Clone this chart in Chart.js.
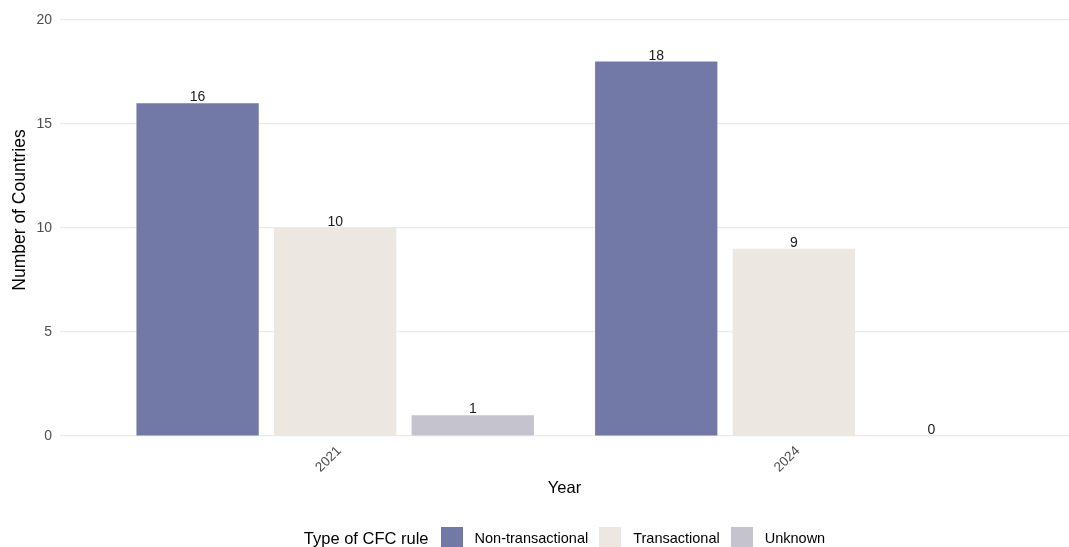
<!DOCTYPE html>
<html>
<head>
<meta charset="utf-8">
<title>CFC rules by year</title>
<script src="https://cdn.jsdelivr.net/npm/chart.js@4"></script>
<style>
  html, body { margin: 0; padding: 0; background: #ffffff; }
  #wrap { position: relative; width: 1069px; height: 547px; }
  #chart { display: block; }
  #legend {
    position: absolute; left: 71px; right: 0; top: 527px; height: 22px;
    display: flex; align-items: center; justify-content: center;
    font-family: "Liberation Sans", Arial, sans-serif; color: #000;
  }
  #legend .title { font-size: 16.5px; margin-right: 12px; }
  #legend .sw { width: 22px; height: 22px; margin-right: 12px; }
  #legend .txt { font-size: 14.5px; margin-right: 11px; }
</style>
</head>
<body>
<div id="wrap">
  <canvas id="chart" width="1069" height="547"></canvas>
  <div id="legend"></div>
</div>
<script>
// Number of countries per type of CFC rule, by year
const years = ['2021', '2024'];
const ruleTypes = ['Non-transactional', 'Transactional', 'Unknown'];
const nonTransactional = [16, 18];
const transactional = [10, 9];
const unknown = [1, 0];
const yTickValues = [0, 5, 10, 15, 20];

const palette = ['#7379A6', '#ECE7E1', '#C4C3CE'];
const FONT = '"Liberation Sans", Arial, sans-serif';
const Y_TITLE = 'Number of Countries';

const seriesValues = [nonTransactional, transactional, unknown];

// Years sit at positions 1..n on a numeric axis so the panel can extend past them
const toPoints = vals => vals.map((v, i) => ({ x: i + 1, y: v }));

const datasets = ruleTypes.map((name, k) => ({
  label: name,
  data: toPoints(seriesValues[k]),
  backgroundColor: palette[k],
  borderWidth: 0,
  categoryPercentage: 0.9,
  barPercentage: 0.8 / 0.9
}));

// Value labels above each bar
const valueLabels = {
  id: 'valueLabels',
  afterDatasetsDraw(chart) {
    const ctx = chart.ctx;
    ctx.save();
    ctx.font = '14px ' + FONT;
    ctx.fillStyle = '#1a1a1a';
    ctx.textAlign = 'center';
    ctx.textBaseline = 'alphabetic';
    chart.data.datasets.forEach((ds, di) => {
      chart.getDatasetMeta(di).data.forEach((bar, i) => {
        ctx.fillText(String(ds.data[i].y), bar.x, bar.y - 2);
      });
    });
    ctx.restore();
  }
};

// Vertical axis title, set a little above the middle of the panel
const yAxisTitle = {
  id: 'yAxisTitle',
  afterDraw(chart) {
    const ctx = chart.ctx;
    const area = chart.chartArea;
    ctx.save();
    ctx.font = '17.5px ' + FONT;
    ctx.fillStyle = '#000';
    ctx.textAlign = 'center';
    ctx.textBaseline = 'middle';
    ctx.translate(20, (area.top + area.bottom) / 2 - 18);
    ctx.rotate(-Math.PI / 2);
    ctx.fillText(Y_TITLE, 0, 0);
    ctx.restore();
  }
};

const chart = new Chart(document.getElementById('chart'), {
  type: 'bar',
  data: { datasets },
  options: {
    responsive: false,
    animation: false,
    layout: { padding: { top: 20, right: 0, bottom: 31, left: 0 } },
    plugins: {
      legend: { display: false },
      tooltip: { enabled: false }
    },
    scales: {
      x: {
        type: 'linear',
        offset: false,
        min: 0.4,
        max: years.length + 0.6,
        grid: { display: false, drawTicks: false },
        border: { display: false },
        afterBuildTicks(scale) {
          scale.ticks = years.map((_, i) => ({ value: i + 1 }));
        },
        afterFit(scale) { scale.height = 80; },
        ticks: {
          autoSkip: false,
          minRotation: 45,
          maxRotation: 45,
          padding: 7,
          labelOffset: 4,
          color: '#4D4D4D',
          font: { family: FONT, size: 13.5 },
          callback: v => years[v - 1]
        },
        title: {
          display: true,
          text: 'Year',
          color: '#000',
          font: { family: FONT, size: 16.5 },
          padding: { top: 0, bottom: 18 }
        }
      },
      y: {
        min: 0,
        max: 20,
        afterBuildTicks(scale) {
          scale.ticks = yTickValues.map(v => ({ value: v }));
        },
        afterFit(scale) { scale.width = 60; },
        grid: { color: '#EBEBEB', lineWidth: 1.2, drawTicks: false },
        border: { display: false },
        ticks: {
          padding: 8,
          color: '#4D4D4D',
          font: { family: FONT, size: 14 }
        }
      }
    }
  },
  plugins: [valueLabels, yAxisTitle]
});

// Legend row built from the chart's datasets
const legend = document.getElementById('legend');
const lt = document.createElement('span');
lt.className = 'title';
lt.textContent = 'Type of CFC rule';
legend.appendChild(lt);
chart.data.datasets.forEach(ds => {
  const sw = document.createElement('span');
  sw.className = 'sw';
  sw.style.background = ds.backgroundColor;
  legend.appendChild(sw);
  const tx = document.createElement('span');
  tx.className = 'txt';
  tx.textContent = ds.label;
  legend.appendChild(tx);
});
</script>
</body>
</html>
